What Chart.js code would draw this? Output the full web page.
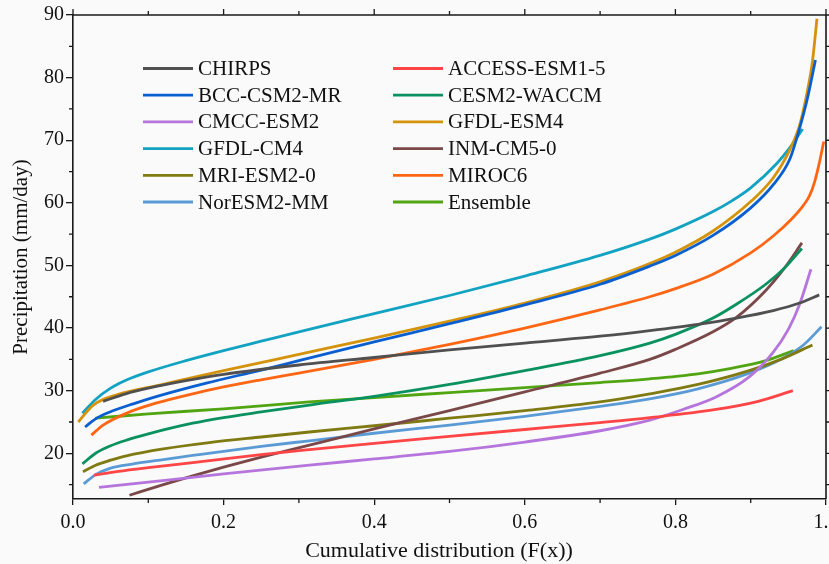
<!DOCTYPE html>
<html>
<head>
<meta charset="utf-8">
<script src="https://cdn.jsdelivr.net/npm/chart.js@4.4.1/dist/chart.umd.min.js"></script>
<style>
  html, body { margin: 0; padding: 0; background: #fafafa; }
  #wrap { width: 829px; height: 564px; }
</style>
</head>
<body>
<div id="wrap"><canvas id="c" width="829" height="564"></canvas></div>
<script>
// ---------- data ----------
const seriesNames = ['CHIRPS','ACCESS-ESM1-5','BCC-CSM2-MR','CESM2-WACCM','CMCC-ESM2','GFDL-ESM4',
                     'GFDL-CM4','INM-CM5-0','MRI-ESM2-0','MIROC6','NorESM2-MM','Ensemble'];
const seriesColors = ['#505050','#ff4545','#0a5fd0','#0a9160','#b575dc','#d4930a',
                      '#12a2c2','#7a4848','#7f7a12','#ff6614','#5b9bd5','#52a512'];

const F_CHIRPS = [0.04, 0.07, 0.10, 0.15, 0.20, 0.30, 0.40, 0.50, 0.60, 0.70, 0.766, 0.83, 0.881, 0.93, 0.965, 0.991];
const P_CHIRPS = [28.3, 29.5, 30.4, 31.6, 32.6, 34.1, 35.3, 36.5, 37.6, 38.7, 39.6, 40.6, 41.6, 42.8, 44.0, 45.3];

const F_ACCESS = [0.028, 0.06, 0.10, 0.159, 0.25, 0.314, 0.40, 0.50, 0.60, 0.70, 0.766, 0.854, 0.91, 0.956];
const P_ACCESS = [16.5, 17.1, 17.7, 18.5, 19.8, 20.6, 21.6, 22.7, 23.8, 24.9, 25.7, 27.0, 28.3, 30.0];

const F_BCC = [0.016, 0.03, 0.049, 0.08, 0.115, 0.177, 0.25, 0.30, 0.40, 0.50, 0.60, 0.70, 0.766, 0.80, 0.85, 0.90, 0.93, 0.952, 0.963, 0.975, 0.986];
const P_BCC = [24.2, 25.5, 26.6, 27.9, 29.2, 31.2, 33.3, 34.8, 37.8, 40.7, 43.7, 47.0, 49.9, 51.6, 54.8, 59.2, 62.9, 67.0, 71.1, 76.5, 82.8];

const F_CESM = [0.0125, 0.03, 0.05, 0.071, 0.10, 0.159, 0.20, 0.25, 0.314, 0.40, 0.50, 0.60, 0.70, 0.766, 0.80, 0.85, 0.881, 0.92, 0.945, 0.968];
const P_CESM = [18.3, 20.0, 21.2, 22.1, 23.1, 24.8, 25.7, 26.6, 27.7, 29.1, 31.0, 33.2, 35.6, 37.6, 39.0, 41.6, 43.8, 47.0, 49.6, 52.7];

const F_CMCC = [0.0345, 0.10, 0.20, 0.314, 0.40, 0.50, 0.60, 0.70, 0.766, 0.81, 0.854, 0.898, 0.929, 0.95, 0.965, 0.98];
const P_CMCC = [14.55, 15.4, 16.7, 18.1, 19.1, 20.3, 21.8, 23.6, 25.3, 27.0, 29.0, 32.2, 36.0, 39.8, 43.8, 49.4];

const F_GFDLESM4 = [0.007, 0.027, 0.06, 0.115, 0.20, 0.30, 0.40, 0.50, 0.60, 0.70, 0.766, 0.80, 0.85, 0.90, 0.93, 0.952, 0.965, 0.975, 0.982, 0.988];
const P_GFDLESM4 = [25.0, 27.7, 29.4, 30.9, 33.2, 35.8, 38.4, 41.1, 44.0, 47.4, 50.3, 52.1, 55.5, 60.2, 64.0, 68.5, 72.4, 77.7, 82.6, 89.4];

const F_GFDLCM4 = [0.0125, 0.03, 0.05, 0.071, 0.10, 0.15, 0.20, 0.25, 0.30, 0.40, 0.50, 0.60, 0.70, 0.766, 0.80, 0.85, 0.876, 0.90, 0.934, 0.955, 0.969];
const P_GFDLCM4 = [26.4, 28.6, 30.4, 31.7, 33.0, 34.8, 36.4, 37.9, 39.4, 42.3, 45.2, 48.3, 51.6, 54.2, 55.8, 58.6, 60.4, 62.4, 66.2, 69.3, 71.8];

const F_INM = [0.075, 0.12, 0.159, 0.20, 0.25, 0.314, 0.40, 0.50, 0.60, 0.70, 0.766, 0.80, 0.85, 0.881, 0.92, 0.945, 0.968];
const P_INM = [13.3, 15.0, 16.4, 17.8, 19.4, 21.3, 23.9, 26.8, 29.8, 32.8, 35.0, 36.6, 39.4, 41.7, 46.0, 49.6, 53.6];

const F_MRI = [0.0133, 0.03, 0.05, 0.071, 0.12, 0.181, 0.25, 0.314, 0.40, 0.50, 0.60, 0.70, 0.766, 0.83, 0.898, 0.94, 0.982];
const P_MRI = [17.05, 18.1, 18.9, 19.6, 20.7, 21.7, 22.6, 23.4, 24.4, 25.6, 26.8, 28.2, 29.5, 31.0, 33.2, 35.0, 37.3];

const F_MIROC6 = [0.0244, 0.04, 0.071, 0.11, 0.159, 0.20, 0.248, 0.30, 0.40, 0.50, 0.60, 0.70, 0.766, 0.80, 0.85, 0.90, 0.93, 0.955, 0.97, 0.978, 0.985, 0.991, 0.997];
const P_MIROC6 = [22.9, 24.5, 26.4, 28.0, 29.5, 30.6, 31.7, 32.8, 35.0, 37.4, 40.0, 42.9, 45.0, 46.3, 48.6, 52.0, 54.7, 57.5, 59.6, 61.1, 63.4, 66.3, 69.8];

const F_NORESM = [0.0142, 0.03, 0.049, 0.08, 0.12, 0.159, 0.25, 0.314, 0.40, 0.50, 0.60, 0.70, 0.766, 0.83, 0.898, 0.94, 0.97, 0.994];
const P_NORESM = [15.1, 16.6, 17.6, 18.3, 19.0, 19.65, 21.1, 22.0, 23.2, 24.5, 25.9, 27.5, 28.7, 30.3, 32.8, 35.0, 37.3, 40.2];

const F_ENS = [0.0297, 0.10, 0.20, 0.314, 0.40, 0.50, 0.60, 0.70, 0.766, 0.83, 0.876, 0.92, 0.957];
const P_ENS = [25.6, 26.3, 27.1, 28.2, 28.9, 29.7, 30.5, 31.3, 31.9, 32.7, 33.6, 34.8, 36.4];

const seriesF = [F_CHIRPS, F_ACCESS, F_BCC, F_CESM, F_CMCC, F_GFDLESM4, F_GFDLCM4, F_INM, F_MRI, F_MIROC6, F_NORESM, F_ENS];
const seriesP = [P_CHIRPS, P_ACCESS, P_BCC, P_CESM, P_CMCC, P_GFDLESM4, P_GFDLCM4, P_INM, P_MRI, P_MIROC6, P_NORESM, P_ENS];

const xTickValues = [0, 0.2, 0.4, 0.6, 0.8, 1.0];
const xTickLabels = ['0.0', '0.2', '0.4', '0.6', '0.8', '1.0'];
const xTitle = 'Cumulative distribution (F(x))';
const yTitle = 'Precipitation (mm/day)';
const yMin = 12.7, yMax = 90;
// -------------------------------------------------------------

const FONT = '"Liberation Serif", "Times New Roman", serif';
const AXIS = '#1a1a1a';

const datasets = seriesNames.map((name, i) => ({
  label: name,
  data: seriesF[i].map((f, k) => ({ x: f, y: seriesP[i][k] })),
  borderColor: seriesColors[i],
  backgroundColor: seriesColors[i],
  borderWidth: 2.8,
  pointRadius: 0,
  fill: false,
  cubicInterpolationMode: 'monotone',
  clip: false
}));

const framePlugin = {
  id: 'frame',
  afterDatasetsDraw(chart) {
    const { ctx, chartArea: a, scales: { x, y } } = chart;
    ctx.save();
    ctx.strokeStyle = AXIS;
    ctx.lineWidth = 1.6;
    ctx.beginPath();
    ctx.moveTo(a.left, a.top); ctx.lineTo(a.right, a.top);
    ctx.moveTo(a.right, a.top); ctx.lineTo(a.right, a.bottom);
    ctx.stroke();
    ctx.lineWidth = 1.3;
    ctx.beginPath();
    for (let v = 0; v <= 10; v++) {
      const px = x.getPixelForValue(v / 10);
      const major = v % 2 === 0;
      const len = major ? 6 : 4;
      if (!major) { ctx.moveTo(px, a.bottom); ctx.lineTo(px, a.bottom + len); }
      ctx.moveTo(px, a.top); ctx.lineTo(px, a.top - len);
    }
    for (let v = 15; v <= 90; v += 5) {
      const py = y.getPixelForValue(v);
      const major = v % 10 === 0;
      const len = major ? 6 : 4;
      if (!major) { ctx.moveTo(a.left, py); ctx.lineTo(a.left - len, py); }
      ctx.moveTo(a.right, py); ctx.lineTo(a.right + len, py);
    }
    ctx.stroke();

    // x axis title
    ctx.font = '22px ' + FONT;
    ctx.fillStyle = '#111';
    ctx.textAlign = 'center';
    ctx.textBaseline = 'middle';
    ctx.fillText(xTitle, 439, 551);

    // legend (two columns, inside plot)
    ctx.font = '21px ' + FONT;
    ctx.textAlign = 'left';
    chart.data.datasets.forEach((ds, i) => {
      const col = i % 2, row = Math.floor(i / 2);
      const y0 = 68.5 + row * 26.7;
      const lx = col === 0 ? 143 : 393;
      ctx.strokeStyle = ds.borderColor;
      ctx.lineWidth = 2.8;
      ctx.beginPath();
      ctx.moveTo(lx, y0); ctx.lineTo(lx + 50, y0);
      ctx.stroke();
      ctx.fillText(ds.label, lx + 55, y0 + 1);
    });
    ctx.restore();
  }
};

new Chart(document.getElementById('c'), {
  type: 'line',
  data: { datasets },
  options: {
    responsive: false,
    animation: false,
    events: [],
    layout: { padding: { left: 0, right: 3, top: 15, bottom: 0 } },
    plugins: { legend: { display: false }, tooltip: { enabled: false } },
    scales: {
      x: {
        type: 'linear', min: 0, max: 1,
        afterBuildTicks: (s) => { s.ticks = xTickValues.map(v => ({ value: v })); },
        ticks: {
          callback: (v) => { const i = xTickValues.indexOf(v); return i >= 0 ? xTickLabels[i] : ''; },
          font: { family: FONT, size: 20 }, color: '#111', padding: 6, maxRotation: 0, autoSkip: false
        },
        grid: { drawOnChartArea: false, drawTicks: true, tickLength: 6, color: AXIS, lineWidth: 1.3 },
        border: { display: true, color: AXIS, width: 1.6 },
        title: { display: false },
        afterFit: (s) => { s.height = 65; s.paddingLeft = 0; s.paddingRight = 0; }
      },
      y: {
        type: 'linear', min: yMin, max: yMax,
        ticks: {
          stepSize: 10, includeBounds: false,
          font: { family: FONT, size: 20 }, color: '#111', padding: 2
        },
        grid: { drawOnChartArea: false, drawTicks: true, tickLength: 7, color: AXIS, lineWidth: 1.3 },
        border: { display: true, color: AXIS, width: 1.6 },
        title: { display: true, text: yTitle, color: '#111',
                 font: { family: FONT, size: 21 }, padding: { top: 9, bottom: 0 } },
        afterFit: (s) => { s.width = 73; s.paddingTop = 0; s.paddingBottom = 0; }
      }
    }
  },
  plugins: [framePlugin]
});
</script>
</body>
</html>
